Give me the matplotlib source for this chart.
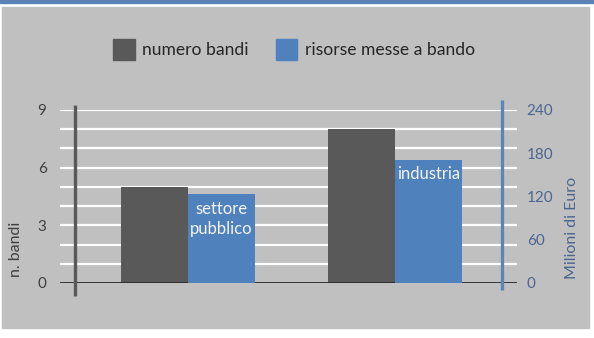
import matplotlib
matplotlib.use('Agg')
import matplotlib.pyplot as plt
from matplotlib.patches import Rectangle

plt.rcParams['font.family'] = ['Lato', 'DejaVu Sans']

categories = ['settore\npubblico', 'industria']
numero_bandi = [5, 8]
risorse = [123, 171]          # milioni di euro
left_ticks = [0, 3, 6, 9]
right_ticks = [0, 60, 120, 180, 240]

GRAY_BG = '#c0c0c0'
DARK = '#595959'
BLUE = '#4f81bd'
SLATE = '#4a6690'

W, H = 594, 338
fig = plt.figure(figsize=(W / 100, H / 100), dpi=100)
fig.patch.set_facecolor('white')

# panel background and top band
fig.add_artist(Rectangle((2 / W, 1 - 328 / H), 587 / W, 321 / H,
                         transform=fig.transFigure, color=GRAY_BG, zorder=0))
fig.add_artist(Rectangle((0, 1 - 2.5 / H), 1, 2.5 / H,
                         transform=fig.transFigure, color='#5b82b5', zorder=0))

# axes spans x 60..517 px, y 109.75..283 px
ax = fig.add_axes([60 / W, 1 - 283 / H, 457 / W, (283 - 109.75) / H])
ax.set_facecolor('none')
ax.set_xlim(-0.618, 1.589)
ax.set_ylim(0, 9)

for v in range(1, 10):
    ax.axhline(v, color='white', lw=1.6, zorder=1)
ax.axhline(0, color='#2a2a2a', lw=1.3, zorder=4)

x = range(len(categories))
bw = 0.324
ax.bar([i - bw / 2 for i in x], numero_bandi, width=bw, color=DARK, zorder=3)

ax2 = ax.twinx()
ax2.set_ylim(0, 240)
ax2.bar([i + bw / 2 for i in x], risorse, width=bw, color=BLUE, zorder=3)

for i, lab in enumerate(categories):
    ax2.text(i + bw / 2, risorse[i] - 9, lab, ha='center', va='top',
             color='#f4f4f4', fontsize=12, linespacing=1.3)

# axis lines
ax.plot([-0.546, -0.546], [-0.68, 9.25], color=DARK, lw=2.4,
        clip_on=False, zorder=5, solid_capstyle='butt')
ax.plot([1.517, 1.517], [-0.36, 9.5], color='#5a85b8', lw=2.4,
        clip_on=False, zorder=5, solid_capstyle='butt')

for a in (ax, ax2):
    for s in a.spines.values():
        s.set_visible(False)
    a.set_xticks([])

ax.set_yticks(left_ticks)
ax.tick_params(axis='y', length=0, pad=9.7, labelsize=11, labelcolor='#404040')
ax2.set_yticks(right_ticks)
ax2.tick_params(axis='y', length=0, pad=7, labelsize=11, labelcolor=SLATE)

fig.text(16 / W, 1 - 249 / H, 'n. bandi', rotation=90, ha='center', va='center',
         fontsize=11.5, color='#404040')
fig.text(572 / W, 1 - 228 / H, 'Milioni di Euro', rotation=90, ha='center',
         va='center', fontsize=11.5, color=SLATE)

# legend
fig.add_artist(Rectangle((113 / W, 1 - 60 / H), 22 / W, 21 / H,
                         transform=fig.transFigure, color=DARK))
fig.text(142 / W, 1 - 50 / H, 'numero bandi', ha='left', va='center',
         fontsize=12.6, color='#262626')
fig.add_artist(Rectangle((276 / W, 1 - 60 / H), 21 / W, 21 / H,
                         transform=fig.transFigure, color=BLUE))
fig.text(305 / W, 1 - 50 / H, 'risorse messe a bando', ha='left', va='center',
         fontsize=12.6, color='#262626')

fig.savefig('out.png', dpi=100)
